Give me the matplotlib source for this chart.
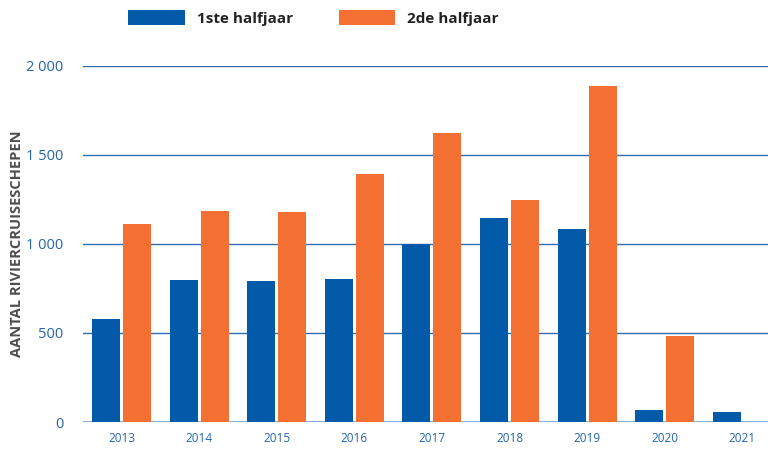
import matplotlib.pyplot as plt
import numpy as np

# data
jaren = ["2013", "2014", "2015", "2016", "2017", "2018", "2019", "2020", "2021"]
eerste_halfjaar = [580, 798, 792, 803, 1000, 1146, 1084, 67, 56]
tweede_halfjaar = [1112, 1185, 1180, 1393, 1624, 1247, 1888, 483, np.nan]
yticks = [0, 500, 1000, 1500, 2000]
ytick_labels = ["0", "500", "1 000", "1 500", "2 000"]

BLAUW = "#035aa8"
ORANJE = "#f37032"
TEKST_BLAUW = "#2465ad"

plt.rcParams['font.family'] = ['Open Sans', 'DejaVu Sans']

fig = plt.figure(figsize=(7.68, 4.51), dpi=100)
ax = fig.add_axes([0.108, 0.0643, 0.892, 0.7894])

x = np.arange(len(jaren))
width = 0.36
b1 = ax.bar(x - 0.2, eerste_halfjaar, width, color=BLAUW, label="1ste halfjaar", zorder=3)
b2 = ax.bar(x + 0.2, tweede_halfjaar, width, color=ORANJE, label="2de halfjaar", zorder=3)

ax.set_xlim(-0.496, 8.33)
ax.set_ylim(0, 2000)
ax.set_yticks(yticks)
ax.set_yticklabels(ytick_labels, fontsize=10.5, color=TEKST_BLAUW)
ax.set_xticks(x)
ax.set_xticklabels(jaren, fontsize=8.5, color=TEKST_BLAUW)
ax.tick_params(axis='both', length=0)
ax.tick_params(axis='y', pad=14)
ax.tick_params(axis='x', pad=7)

for s in ax.spines.values():
    s.set_visible(False)
ax.grid(axis='y', color="#2f6db5", linewidth=1.0, zorder=0)
ax.axhline(0, color="#7fa6d6", linewidth=2.0, zorder=2)

ax.set_ylabel("AANTAL RIVIERCRUISESCHEPEN", fontsize=10.5, color="#4d4d4d",
              fontweight='bold')
ax.yaxis.set_label_coords(-0.086, 0.50)

fig.legend(handles=[b1, b2], loc='center left', bbox_to_anchor=(0.1667, 0.96),
           frameon=False, ncol=2, prop={'weight': 'bold', 'size': 11},
           handlelength=3.7, handleheight=1.15, handletextpad=0.8,
           columnspacing=3.0, borderpad=0, borderaxespad=0)
for t in fig.legends[0].get_texts():
    t.set_color("#222222")

fig.savefig("out.png", dpi=100)
